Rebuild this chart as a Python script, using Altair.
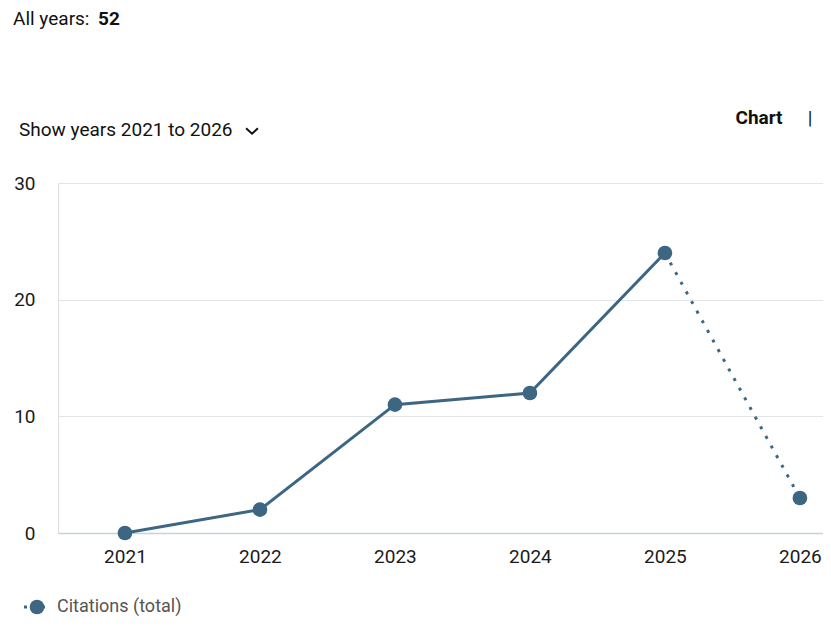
import altair as alt
import pandas as pd

years = [2021, 2022, 2023, 2024, 2025, 2026]
citations = [0, 2, 11, 12, 24, 3]
total_label = "All years: "
total_value = "52"
range_label = "Show years 2021 to 2026"
series_name = "Citations (total)"
y_ticks = [0, 10, 20, 30]

COLOR = "#3c6682"
FONT = "Roboto"

df = pd.DataFrame({"year": years, "citations": citations})
solid = df[df["year"] <= 2025]
dotted = df[df["year"] >= 2025]

x = alt.X("year:Q",
          scale=alt.Scale(domain=[2020.504, 2026.171], nice=False, zero=False),
          axis=alt.Axis(values=years, format="d", title=None, grid=False,
                        ticks=False, labelPadding=14, domainColor="#c6d3dd",
                        domainWidth=1.5, labelFontSize=19, labelColor="#1a1a1a",
                        labelFont=FONT))
y = alt.Y("citations:Q",
          scale=alt.Scale(domain=[0, 30], nice=False),
          axis=alt.Axis(values=y_ticks, title=None, domain=False, ticks=False,
                        labelPadding=23, gridColor="#e2e5e7", gridWidth=1.2,
                        labelFontSize=19, labelColor="#1a1a1a", labelFont=FONT))

line_solid = alt.Chart(solid).mark_line(color=COLOR, strokeWidth=3).encode(x=x, y=y)
line_dot = alt.Chart(dotted).mark_line(color=COLOR, strokeWidth=3,
                                       strokeDash=[3, 8]).encode(x=x, y=y)
points = alt.Chart(df).mark_point(filled=True, opacity=1, color=COLOR,
                                  size=215).encode(x=x, y=y)

deco = pd.DataFrame({"k": [0]})
base = alt.Chart(deco)

t_all = base.mark_text(align="left", baseline="middle", font=FONT, fontSize=19,
                       color="#111").encode(x=alt.value(-45), y=alt.value(-164),
                                            text=alt.value(total_label))
t_52 = base.mark_text(align="left", baseline="middle", font=FONT, fontSize=19,
                      fontWeight="bold", color="#111").encode(
    x=alt.value(40), y=alt.value(-164), text=alt.value(total_value))
t_range = base.mark_text(align="left", baseline="middle", font=FONT, fontSize=19,
                         color="#111").encode(x=alt.value(-39), y=alt.value(-53),
                                              text=alt.value(range_label))
chevron = base.mark_point(shape="M-1,-0.45L0,0.45L1,-0.45", filled=False,
                          strokeWidth=2, color="#111", size=140, opacity=1).encode(
    x=alt.value(194), y=alt.value(-52))
t_chart = base.mark_text(align="center", baseline="middle", font=FONT, fontSize=19,
                         fontWeight="bold", color="#111").encode(
    x=alt.value(701), y=alt.value(-65), text=alt.value("Chart"))
t_bar = base.mark_text(align="center", baseline="middle", font=FONT, fontSize=19,
                       color="#111").encode(x=alt.value(752), y=alt.value(-65),
                                            text=alt.value("|"))

leg_line = base.mark_rule(color=COLOR, strokeWidth=3, strokeDash=[3, 6]).encode(
    x=alt.value(-34), x2=alt.value(-9), y=alt.value(424))
leg_pt = base.mark_point(filled=True, opacity=1, color=COLOR, size=215).encode(
    x=alt.value(-21), y=alt.value(424))
leg_txt = base.mark_text(align="left", baseline="middle", font=FONT, fontSize=18,
                         color="#555").encode(x=alt.value(-1), y=alt.value(424),
                                              text=alt.value(series_name))

chart = alt.layer(
    line_solid, line_dot, points,
    t_all, t_52, t_range, chevron, t_chart, t_bar,
    leg_line, leg_pt, leg_txt,
).properties(
    width=765, height=350,
    autosize=alt.AutoSizeParams(type="none"),
    padding={"left": 50, "top": 175, "right": 0, "bottom": 86},
).configure_view(stroke=None).configure(background="white")

chart.save("out.html", embed_options={"renderer": "svg", "actions": False})
